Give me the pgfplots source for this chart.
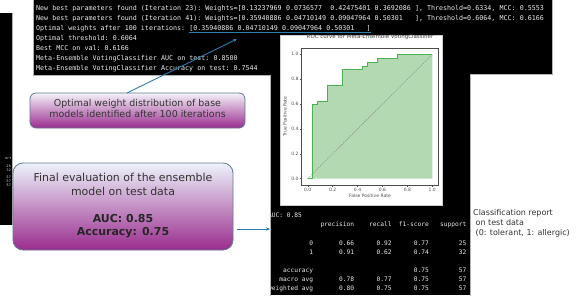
\documentclass[border=0pt]{standalone}
\usepackage{fontspec}
\setmainfont{DejaVu Sans}
\newfontfamily\mono[WordSpace={1,0,0}]{DejaVu Sans Mono}
\usepackage{pgfplots}
\pgfplotsset{compat=1.18}
\usetikzlibrary{arrows.meta}
\definecolor{arrowblue}{HTML}{2E7DAF}
\definecolor{boxedge}{HTML}{5F7A8E}
\definecolor{boxtopA}{HTML}{F4F2F9}
\definecolor{boxtopB}{HTML}{EDF3FB}
\definecolor{boxmid}{HTML}{D9BEDC}
\definecolor{boxbot}{HTML}{9A2C8E}
\definecolor{rocline}{HTML}{4CAF50}
\definecolor{rocfill}{HTML}{B3D9B3}
\definecolor{txtgray}{HTML}{333333}
\definecolor{termtxt}{HTML}{EDEDED}
\tikzset{term/.style={anchor=base west, inner sep=0pt, text=termtxt, font=\mono\fontsize{6.69}{8}\selectfont\frenchspacing}}
\newcommand\T[3]{\node[term] at ({36+#1*4.03},#2) {#3};}

\begin{document}
\begin{tikzpicture}[x=1bp,y=1bp]
\useasboundingbox (0,0) rectangle (585,295);
\fill[white] (0,0) rectangle (585,295);

% ---------- black terminal panels ----------
\fill[black] (-2,70) rectangle (12,282);
\draw[gray!60, line width=0.5bp] (12,70) -- (12,282);
\fill[black] (33,220) rectangle (552,296);
\fill[black] (270,0) rectangle (470,221);
\draw[gray!60, line width=0.5bp] (33,296) -- (33,220) -- (270,220) -- (270,-1);
\draw[gray!60, line width=0.5bp] (470,-1) -- (470,220.5) -- (552,220.5) -- (552,296);

% tiny text in left panel
\begin{scope}[every node/.style={anchor=base east, inner sep=0pt, text=termtxt, font=\mono\fontsize{3.4}{4}\selectfont}]
\node at (11.5,135.5) {ort};
\node at (11,128) {25};
\node at (11,124) {32};
\node at (11,116.5) {57};
\node at (11,112.5) {57};
\node at (11,108.5) {57};
\end{scope}

% ---------- terminal text (top), one node per word at its column ----------
\T{0}{284.1}{New}\T{4}{284.1}{best}\T{9}{284.1}{parameters}\T{20}{284.1}{found}\T{26}{284.1}{(Iteration}\T{37}{284.1}{23):}
\T{42}{284.1}{Weights=[0.13237969}\T{62}{284.1}{0.0736577}\T{73}{284.1}{0.42475401}\T{84}{284.1}{0.3692086}
\T{94}{284.1}{],}\T{97}{284.1}{Threshold=0.6334,}\T{115}{284.1}{MCC:}\T{120}{284.1}{0.5553}

\T{0}{274.1}{New}\T{4}{274.1}{best}\T{9}{274.1}{parameters}\T{20}{274.1}{found}\T{26}{274.1}{(Iteration}\T{37}{274.1}{41):}
\T{42}{274.1}{Weights=[0.35940886}\T{62}{274.1}{0.04710149}\T{73}{274.1}{0.09047964}\T{84}{274.1}{0.50301}
\T{94}{274.1}{],}\T{97}{274.1}{Threshold=0.6064,}\T{115}{274.1}{MCC:}\T{120}{274.1}{0.6166}

\T{0}{264.1}{Optimal}\T{8}{264.1}{weights}\T{16}{264.1}{after}\T{22}{264.1}{100}\T{26}{264.1}{iterations:}
\T{38}{264.1}{[0.35940886}\T{50}{264.1}{0.04710149}\T{61}{264.1}{0.09047964}\T{72}{264.1}{0.50301}\T{82}{264.1}{]}

\T{0}{254.1}{Optimal}\T{8}{254.1}{threshold:}\T{19}{254.1}{0.6064}
\T{0}{244.1}{Best}\T{5}{244.1}{MCC}\T{9}{244.1}{on}\T{12}{244.1}{val:}\T{17}{244.1}{0.6166}
\T{0}{234.1}{Meta-Ensemble}\T{14}{234.1}{VotingClassifier}\T{31}{234.1}{AUC}\T{35}{234.1}{on}\T{38}{234.1}{test:}\T{44}{234.1}{0.8500}
\T{0}{224.1}{Meta-Ensemble}\T{14}{224.1}{VotingClassifier}\T{31}{224.1}{Accuracy}\T{40}{224.1}{on}\T{43}{224.1}{test:}\T{49}{224.1}{0.7544}

\draw[arrowblue, line width=0.8bp] (189,262.8) -- (371,262.8);

% ---------- classification report ----------
\begin{scope}[every node/.style={anchor=base west, inner sep=0pt, text=termtxt, font=\mono\fontsize{6.23}{7}\selectfont\frenchspacing}]
\node at (268,77.8) {AUC: 0.85};
\node at (268,68.7) {~~~~~~~~~~~~~~precision~~~~recall~~f1-score~~~support};
\node at (268,49.7) {~~~~~~~~~~~0~~~~~~~0.66~~~~~~0.92~~~~~~0.77~~~~~~~~25};
\node at (268,40.6) {~~~~~~~~~~~1~~~~~~~0.91~~~~~~0.62~~~~~~0.74~~~~~~~~32};
\node at (268,22.4) {~~~~accuracy~~~~~~~~~~~~~~~~~~~~~~~~~~~0.75~~~~~~~~57};
\node at (268,13.3) {~~~macro avg~~~~~~~0.78~~~~~~0.77~~~~~~0.75~~~~~~~~57};
\node at (268,4.2) {weighted avg~~~~~~~0.80~~~~~~0.75~~~~~~0.75~~~~~~~~57};
\end{scope}

% ---------- ROC figure ----------
\fill[white, draw=gray!40, line width=0.5bp] (280,90) rectangle (442,260);
\begin{axis}[
  at={(301.5bp,110.1bp)}, anchor=south west,
  scale only axis, width=137bp, height=136.8bp,
  xmin=-0.05, xmax=1.05, ymin=-0.05, ymax=1.05,
  xtick={0,0.2,0.4,0.6,0.8,1}, ytick={0,0.2,0.4,0.6,0.8,1},
  xticklabels={0.0,0.2,0.4,0.6,0.8,1.0},
  yticklabels={0.0,0.2,0.4,0.6,0.8,1.0},
  tick align=outside, xtick pos=bottom, ytick pos=left,
  major tick length=1.8bp,
  tick style={black!70, line width=0.4bp},
  axis line style={black!70, line width=0.5bp},
  tick label style={font=\fontsize{4.5}{5}\selectfont, text=black!70},
  xticklabel style={inner sep=1bp},
  yticklabel style={inner sep=1bp},
  title={ROC curve for Meta-Ensemble VotingClassifier},
  title style={font=\fontsize{5.5}{6}\selectfont, text=black!75, at={(axis description cs:0.5,1)}, anchor=south, inner sep=0pt, yshift=2bp},
  xlabel={False Positive Rate}, ylabel={True Positive Rate},
  xlabel style={font=\fontsize{4.5}{5}\selectfont, text=black!70, at={(axis description cs:0.5,-0.08)}, anchor=center, inner sep=0pt},
  ylabel style={font=\fontsize{4.5}{5}\selectfont, text=black!70, at={(axis description cs:-0.12,0.5)}, anchor=center, inner sep=0pt},
]
\addplot[draw=none, fill=rocfill] coordinates {
(0,0) (0.04,0) (0.04,0.59375) (0.08,0.59375) (0.08,0.625) (0.16,0.625) (0.16,0.75) (0.28,0.75) (0.28,0.875) (0.44,0.875) (0.44,0.90625) (0.48,0.90625) (0.48,0.9375) (0.56,0.9375) (0.56,0.96875) (0.72,0.96875) (0.72,1) (1,1)} \closedcycle;
\addplot[gray, line width=0.4bp, dash pattern=on 1.5bp off 1bp] coordinates {(0,0) (1,1)};
\addplot[rocline, line width=0.9bp] coordinates {
(0,0) (0.04,0) (0.04,0.59375) (0.08,0.59375) (0.08,0.625) (0.16,0.625) (0.16,0.75) (0.28,0.75) (0.28,0.875) (0.44,0.875) (0.44,0.90625) (0.48,0.90625) (0.48,0.9375) (0.56,0.9375) (0.56,0.96875) (0.72,0.96875) (0.72,1) (1,1)};
\end{axis}

% ---------- callout boxes ----------
\draw[boxedge, line width=0.8bp, rounded corners=6bp, top color=boxtopA, middle color=boxmid, bottom color=boxbot] (30,167) rectangle (245,202);
\node[text=txtgray, font=\fontsize{9.5}{11}\selectfont, align=center, inner sep=0pt] at (137.5,186.5) {Optimal weight distribution of base\\models identified after 100 iterations};
\draw[-{Stealth[length=4bp,width=3.5bp]}, arrowblue, line width=0.9bp] (127,202) -- (237,256);

\draw[boxedge, line width=0.8bp, rounded corners=10bp, top color=boxtopB, middle color=boxmid, bottom color=boxbot] (13,45) rectangle (233,132);
\node[text=txtgray, font=\fontsize{11}{14}\selectfont, inner sep=0pt, anchor=base] at (123,113.5) {Final evaluation of the ensemble};
\node[text=txtgray, font=\fontsize{11}{14}\selectfont, inner sep=0pt, anchor=base] at (123,99.5) {model on test data};
\node[text=black!85, font=\bfseries\fontsize{11}{14}\selectfont, inner sep=0pt, anchor=base] at (123,72.5) {AUC: 0.85};
\node[text=black!85, font=\bfseries\fontsize{11}{14}\selectfont, inner sep=0pt, anchor=base] at (123,59.5) {Accuracy: 0.75};
\draw[-{Stealth[length=4bp,width=3.5bp]}, arrowblue, line width=0.9bp] (237,66) -- (270,66);

% ---------- side caption ----------
\begin{scope}[every node/.style={anchor=base west, inner sep=0pt, text=txtgray, font=\fontsize{8}{9}\selectfont}]
\node at (473,79.5) {Classification report};
\node at (473,69.5) {\ on test data};
\node at (473,59.5) {\ (0: tolerant, 1: allergic)};
\end{scope}
\end{tikzpicture}
\end{document}
